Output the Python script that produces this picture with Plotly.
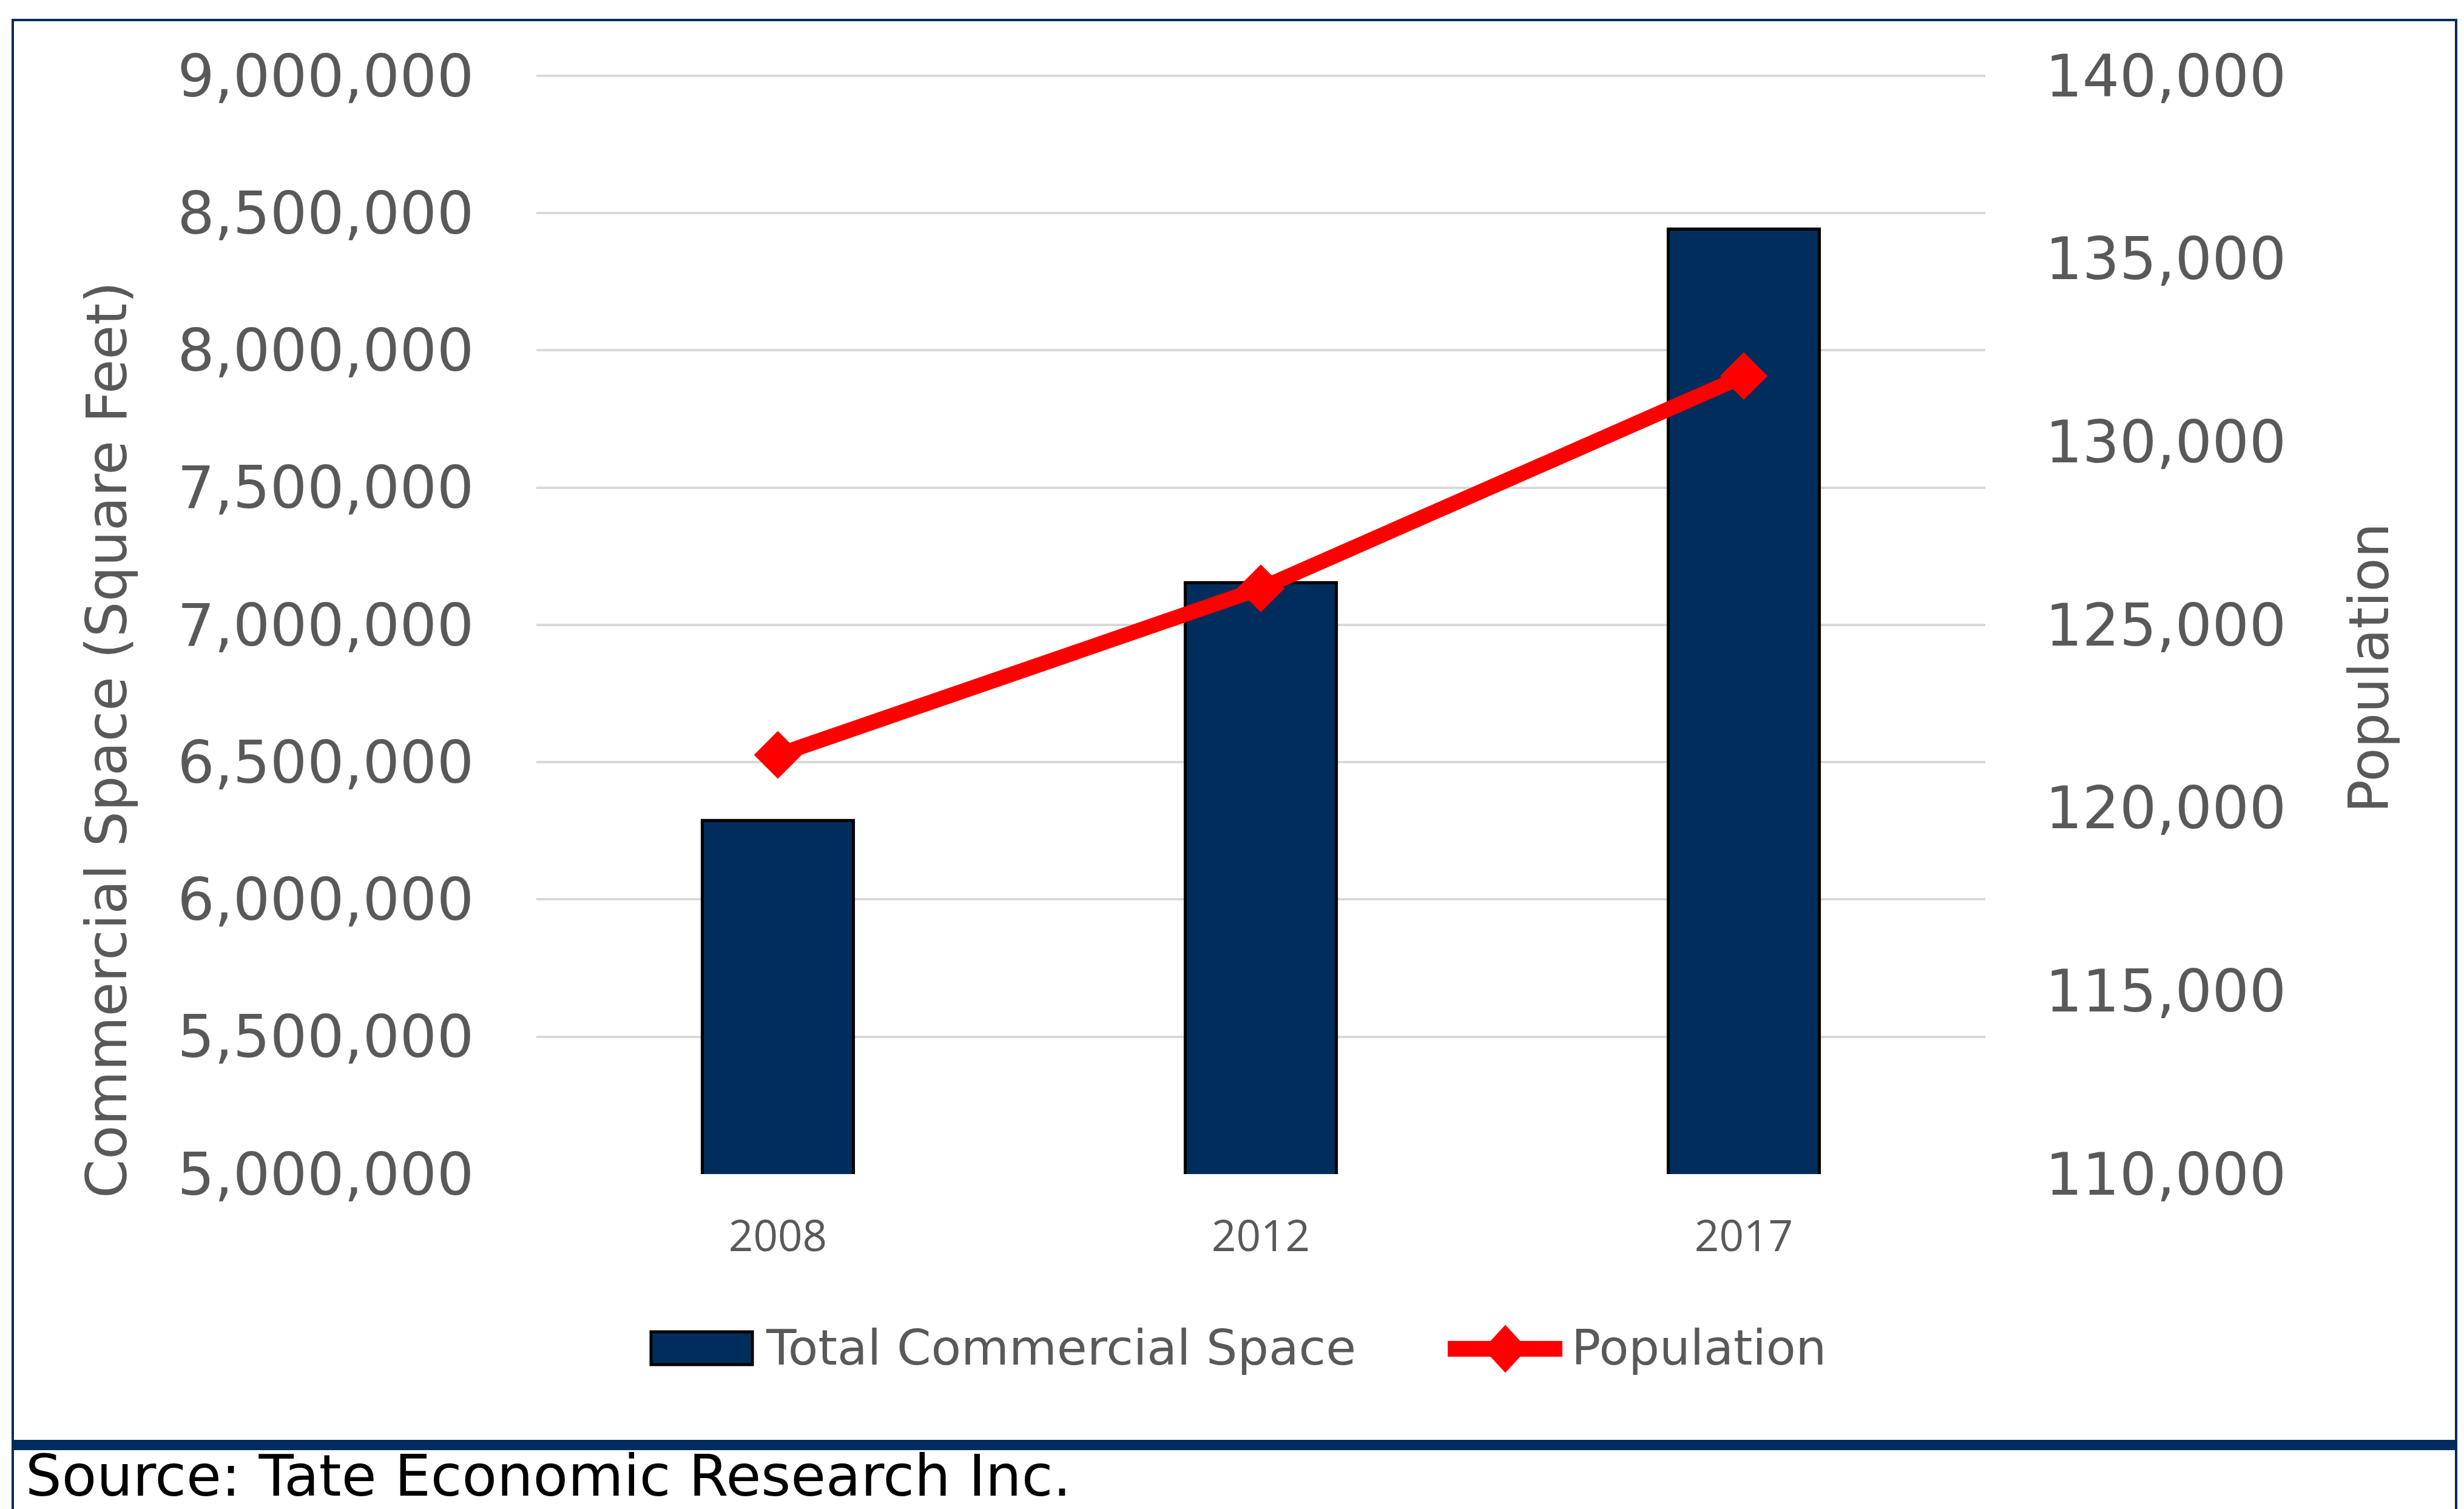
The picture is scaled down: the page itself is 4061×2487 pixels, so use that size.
import plotly.graph_objects as go

# ---- data ----
years = ["2008", "2012", "2017"]
commercial_space = [6288000, 7154000, 8442000]
population = [121450, 126000, 131800]
left_ticks = [5000000, 5500000, 6000000, 6500000, 7000000, 7500000, 8000000, 8500000, 9000000]
right_ticks = [110000, 115000, 120000, 125000, 130000, 135000, 140000]
series_names = ["Total Commercial Space", "Population"]
left_title = "Commercial Space (Square Feet)"
right_title = "Population"
source_text = "Source: Tate Economic Research Inc."

# ---- layout geometry (pixels) ----
W, H = 4061, 2487
L, R, T, B = 876, 3264, 112, 1927  # plot area edges (top padded a few px so the 9M grid shows)

NAVY = "#002D5C"
GRAY_TXT = "#595959"
RED = "#FF0000"


def px(xp):
    return (xp - L) / (R - L)


def py(yp):
    return (B - yp) / (B - T)


fig = go.Figure()
fig.add_trace(go.Bar(
    x=years, y=commercial_space, name=series_names[0],
    marker=dict(color=NAVY, line=dict(color="#000000", width=5)),
    showlegend=False,
))
fig.add_trace(go.Scatter(
    x=years, y=population, name=series_names[1], yaxis="y2",
    mode="lines+markers",
    line=dict(color=RED, width=25),
    marker=dict(symbol="diamond", size=54, color=RED, line=dict(color=RED, width=6)),
    showlegend=False,
))

shapes = []
# outer border
shapes.append(dict(type="rect", xref="paper", yref="paper",
                   x0=px(13), x1=px(4040), y0=py(2600), y1=py(25),
                   line=dict(color=NAVY, width=4), fillcolor="rgba(0,0,0,0)", layer="below"))
# navy band above source
shapes.append(dict(type="rect", xref="paper", yref="paper",
                   x0=px(13), x1=px(4042), y0=py(2382), y1=py(2365),
                   line=dict(width=0), fillcolor=NAVY))
# legend: bar swatch
shapes.append(dict(type="rect", xref="paper", yref="paper",
                   x0=px(1065), x1=px(1232), y0=py(2241), y1=py(2187),
                   line=dict(color="#000000", width=5), fillcolor=NAVY))
# legend: line swatch
shapes.append(dict(type="line", xref="paper", yref="paper",
                   x0=px(2378), x1=px(2567), y0=py(2215), y1=py(2215),
                   line=dict(color=RED, width=26)))
cx, cy, hw, hh = 2473, 2215, 35, 38
shapes.append(dict(type="path", xref="paper", yref="paper",
                   path=f"M {px(cx - hw)},{py(cy)} L {px(cx)},{py(cy - hh)} L {px(cx + hw)},{py(cy)} L {px(cx)},{py(cy + hh)} Z",
                   line=dict(color=RED, width=2), fillcolor=RED))

annotations = [
    dict(text=left_title, textangle=-90, xref="paper", yref="paper",
         x=px(168), y=py(1212), xanchor="center", yanchor="middle", showarrow=False,
         font=dict(family="DejaVu Sans", size=92, color=GRAY_TXT)),
    dict(text=right_title, textangle=-90, xref="paper", yref="paper",
         x=px(3896), y=py(1093), xanchor="center", yanchor="middle", showarrow=False,
         font=dict(family="DejaVu Sans", size=91, color=GRAY_TXT)),
    dict(text=series_names[0], xref="paper", yref="paper",
         x=px(1252), y=py(2213), xanchor="left", yanchor="middle", showarrow=False,
         font=dict(family="DejaVu Sans", size=81, color=GRAY_TXT)),
    dict(text=series_names[1], xref="paper", yref="paper",
         x=px(2580), y=py(2213), xanchor="left", yanchor="middle", showarrow=False,
         font=dict(family="DejaVu Sans", size=80, color=GRAY_TXT)),
    dict(text=source_text, xref="paper", yref="paper",
         x=px(33), y=py(2424), xanchor="left", yanchor="middle", showarrow=False,
         borderpad=0,
         font=dict(family="DejaVu Sans", size=94, color="#000000")),
]

fig.update_layout(
    width=W, height=H,
    margin=dict(l=L, r=W - R, t=T, b=H - B, pad=0),
    paper_bgcolor="white", plot_bgcolor="white",
    bargap=0.687,
    showlegend=False,
    xaxis=dict(type="category", range=[-0.5, 2.5], showgrid=False, zeroline=False,
               showline=False, ticks="", ticklabelstandoff=55,
               tickfont=dict(family="Open Sans", size=71, color=GRAY_TXT)),
    yaxis=dict(range=[5000000, 9011000], tickvals=left_ticks, tickformat=",",
               showgrid=True, gridcolor="#D9D9D9", gridwidth=4, zeroline=False,
               showline=False, ticks="", ticklabelstandoff=102,
               tickfont=dict(family="DejaVu Sans", size=96, color=GRAY_TXT)),
    yaxis2=dict(range=[110000, 140082.5], tickvals=right_ticks, tickformat=",",
                overlaying="y", side="right", showgrid=False, zeroline=False,
                showline=False, ticks="", ticklabelstandoff=98,
                tickfont=dict(family="DejaVu Sans", size=96, color=GRAY_TXT)),
    shapes=shapes,
    annotations=annotations,
)

fig.write_html("out.html")
